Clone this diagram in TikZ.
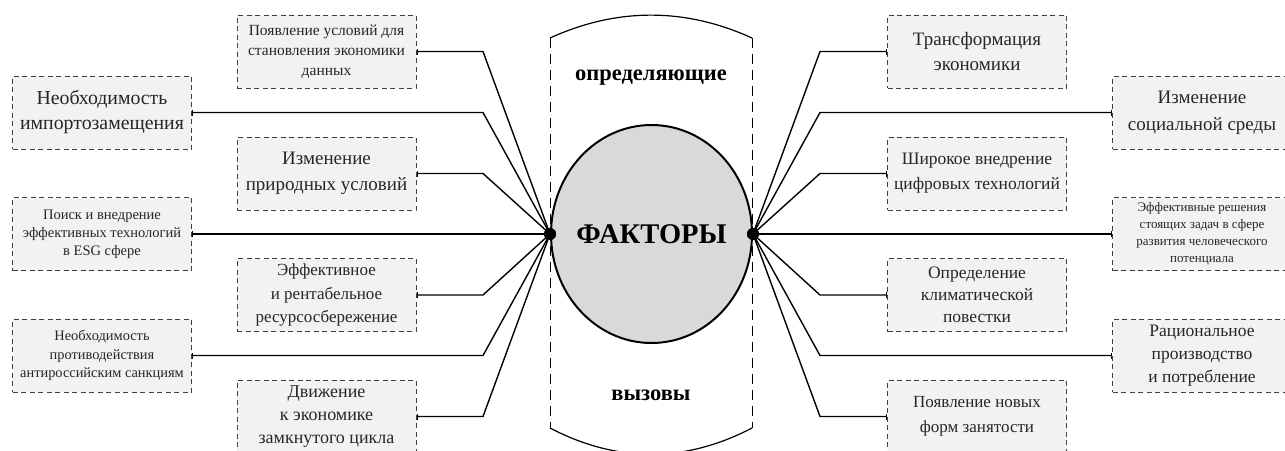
\documentclass[tikz,border=0pt]{standalone}
\usepackage{fontspec}
\setmainfont{Liberation Serif}
\usetikzlibrary{arrows.meta,shapes.geometric}
\begin{document}
\begin{tikzpicture}[x=1pt,y=-1pt,
  fbox/.style={draw=black!75, dash pattern=on 5pt off 3.5pt, line width=1pt, fill=black!5,
    minimum width=179pt, minimum height=73pt, inner sep=0pt, align=center, text=black!85},
  link/.style={line width=1.4pt, -{Bar[width=6pt,line width=1pt]}},
  band/.style={line width=0.9pt, dash pattern=on 10pt off 6pt},
  arcline/.style={line width=1.2pt},
  dot/.style={circle, fill=black, inner sep=0pt, minimum size=12pt},
  bigtxt/.style={font=\bfseries\fontsize{22.5pt}{24pt}\selectfont}]
\clip (0,0) rectangle (1285,450);
\fill[white] (0,0) rectangle (1285,450);

% band around centre
\draw[band] (550,38) -- (550,428);
\draw[band] (752,38) -- (752,428);
\draw[arcline] (550,38) .. controls (617,7.5) and (685,7.5) .. (752,38);
\draw[arcline] (550,428) .. controls (617,463) and (685,463) .. (752,428);
\node[bigtxt] (top) at (651,78) {определяющие};
\node[bigtxt] (bot) at (651,395) {вызовы};

% centre
\node[ellipse, draw, line width=2pt, fill=black!15, minimum width=201pt, minimum height=218pt, inner sep=0pt] (c) at (651.5,234) {};
\node[font=\bfseries\fontsize{28.5pt}{32pt}\selectfont, inner sep=0pt] (ct) at (c.center) {ФАКТОРЫ};

% left boxes
\node[fbox, font=\fontsize{19.8pt}{25pt}\selectfont] (lo1) at (102,112.5) {Необходимость\\импортозамещения};
\node[fbox, font=\fontsize{14.5pt}{18pt}\selectfont] (lo2) at (102,234) {Поиск и внедрение\\эффективных технологий\\в ESG сфере};
\node[fbox, font=\fontsize{14.4pt}{18.5pt}\selectfont] (lo3) at (102,355.5) {Необходимость\\противодействия\\антироссийским санкциям};
\node[fbox, font=\fontsize{15.5pt}{20pt}\selectfont] (li1) at (326.5,51.5) {Появление условий для\\становления экономики\\данных};
\node[fbox, font=\fontsize{19pt}{26pt}\selectfont] (li2) at (326.5,173.5) {Изменение\\природных условий};
\node[fbox, font=\fontsize{17pt}{23.5pt}\selectfont] (li3) at (326.5,295) {Эффективное\\и рентабельное\\ресурсосбережение};
\node[fbox, font=\fontsize{18pt}{23pt}\selectfont] (li4) at (326.5,416.5) {Движение\\к экономике\\замкнутого цикла};

% right boxes
\node[fbox, font=\fontsize{19pt}{25pt}\selectfont] (ri1) at (977,51.5) {Трансформация\\экономики};
\node[fbox, font=\fontsize{17.5pt}{25pt}\selectfont] (ri2) at (977,173.5) {Широкое внедрение\\цифровых технологий};
\node[fbox, font=\fontsize{17.5pt}{22pt}\selectfont] (ri3) at (977,295) {Определение\\климатической\\повестки};
\node[fbox, font=\fontsize{17pt}{25pt}\selectfont] (ri4) at (977,416.5) {Появление новых\\форм занятости};
\node[fbox, font=\fontsize{19pt}{27pt}\selectfont] (ro1) at (1202,112.5) {Изменение\\социальной среды};
\node[fbox, font=\fontsize{13pt}{17pt}\selectfont] (ro2) at (1202,234) {Эффективные решения\\стоящих задач в сфере\\развития человеческого\\потенциала};
\node[fbox, font=\fontsize{17.5pt}{23pt}\selectfont] (ro3) at (1202,355.5) {Рациональное\\производство\\и потребление};

% connectors
\coordinate (bL) at (483,234);
\coordinate (bR) at (820,234);
\node[dot] (dL) at (c.west) {};
\node[dot] (dR) at (c.east) {};
\foreach \b in {lo1,lo2,lo3,li1,li2,li3,li4}
  \draw[link] (dL.center) -- (bL |- \b.east) -- (\b.east);
\foreach \b in {ro1,ro2,ro3,ri1,ri2,ri3,ri4}
  \draw[link] (dR.center) -- (bR |- \b.west) -- (\b.west);
\node[dot] at (dL) {};
\node[dot] at (dR) {};
\end{tikzpicture}
\end{document}
